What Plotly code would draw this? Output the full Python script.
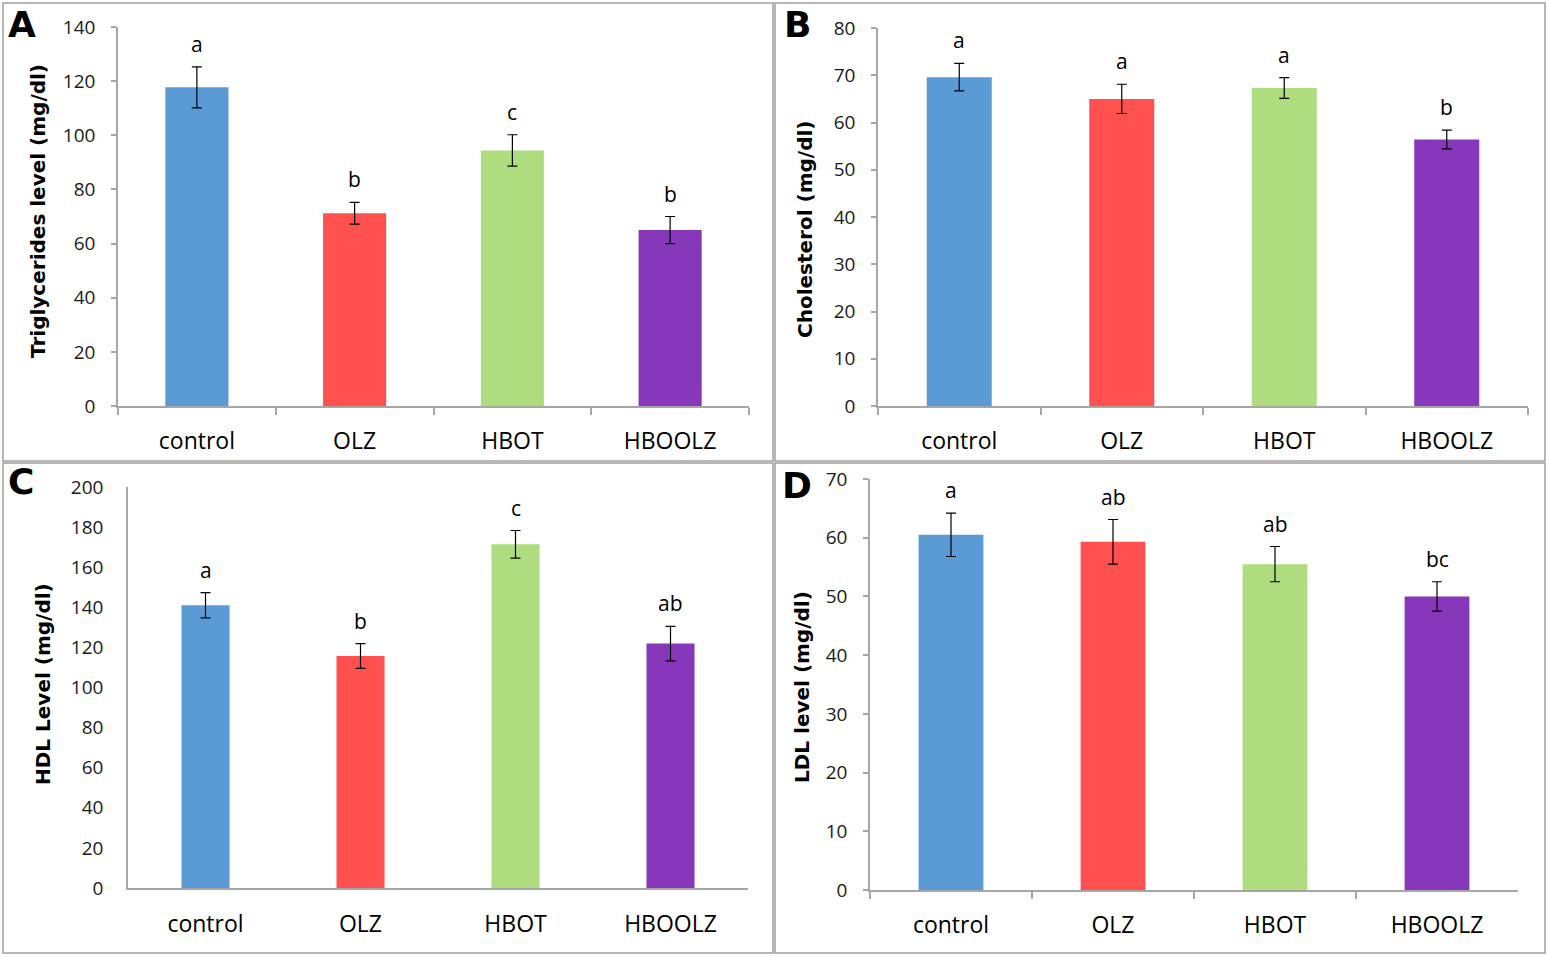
import plotly.graph_objects as go

# groups and values
groups = ["control", "OLZ", "HBOT", "HBOOLZ"]
bar_colors = ["#5B9BD5", "#FF5050", "#AFDC7E", "#8637BA"]

tg_mean = [117.7, 71.2, 94.4, 65.0]
tg_err = [7.6, 4.0, 5.8, 5.0]
tg_sig = ["a", "b", "c", "b"]

chol_mean = [69.6, 65.0, 67.3, 56.4]
chol_err = [2.9, 3.1, 2.2, 2.0]
chol_sig = ["a", "a", "a", "b"]

hdl_mean = [141.0, 115.7, 171.4, 121.9]
hdl_err = [6.3, 6.2, 6.9, 8.6]
hdl_sig = ["a", "b", "c", "ab"]

ldl_mean = [60.5, 59.3, 55.5, 50.0]
ldl_err = [3.7, 3.8, 3.0, 2.5]
ldl_sig = ["a", "ab", "ab", "bc"]

W, H = 1549, 957

def px_x(v):
    return v / W

def px_y(v):
    return 1 - v / H

# panel: letter, y title, data, y max, dtick, axis box in px (left, right, top, bottom), bar width, ticks
panels = [
    dict(letter="A", title="Triglycerides level (mg/dl)", mean=tg_mean, err=tg_err, sig=tg_sig,
         ymax=140, dtick=20, box=(118, 749, 27, 406), bw=0.4, ticks=True,
         letter_pos=(22, 25), title_pos=(38, 211), frame=(3, 773, 3, 461)),
    dict(letter="B", title="Cholesterol (mg/dl)", mean=chol_mean, err=chol_err, sig=chol_sig,
         ymax=80, dtick=10, box=(878, 1528, 28, 406), bw=0.4, ticks=True,
         letter_pos=(797, 24), title_pos=(805, 230), frame=(775, 1545, 3, 461)),
    dict(letter="C", title="HDL Level (mg/dl)", mean=hdl_mean, err=hdl_err, sig=hdl_sig,
         ymax=200, dtick=20, box=(128, 748, 487, 888), bw=0.31, ticks=False,
         letter_pos=(21, 481), title_pos=(43, 684), frame=(3, 773, 463, 953)),
    dict(letter="D", title="LDL level (mg/dl)", mean=ldl_mean, err=ldl_err, sig=ldl_sig,
         ymax=70, dtick=10, box=(870, 1518, 479, 890), bw=0.4, ticks=True,
         letter_pos=(797, 485), title_pos=(802, 687), frame=(775, 1545, 463, 953)),
]

axis_grey = "#A6A6A6"
fig = go.Figure()
annotations = []
shapes = []

for i, p in enumerate(panels):
    n = "" if i == 0 else str(i + 1)
    fig.add_trace(go.Bar(
        x=groups, y=p["mean"], width=p["bw"],
        marker=dict(color=bar_colors, line=dict(width=0)),
        error_y=dict(type="data", array=p["err"], visible=True,
                     color="#000000", thickness=1.2, width=5),
        xaxis="x" + n, yaxis="y" + n, showlegend=False,
    ))
    l, r, t, b = p["box"]
    fig.layout["xaxis" + n] = dict(
        domain=[px_x(l), px_x(r)], anchor="y" + n, automargin=False,
        showline=True, linecolor=axis_grey, linewidth=1.5,
        ticks="outside" if p["ticks"] else "", tickson="boundaries",
        ticklen=7, tickcolor=axis_grey, tickwidth=1.5,
        tickfont=dict(family="Open Sans", size=23, color="#000000"),
        ticklabelstandoff=14 if p["ticks"] else 15, showgrid=False, fixedrange=True,
    )
    fig.layout["yaxis" + n] = dict(
        domain=[px_y(b), px_y(t)], anchor="x" + n, automargin=False,
        range=[0, p["ymax"]], dtick=p["dtick"],
        showline=True, linecolor=axis_grey, linewidth=1.5,
        ticks="outside" if p["ticks"] else "", ticklen=5,
        tickcolor=axis_grey, tickwidth=1.5,
        tickfont=dict(family="Open Sans", size=19, color="#1a1a1a"),
        ticklabelstandoff=12 if p["ticks"] else 19, showgrid=False, zeroline=False,
        fixedrange=True,
    )
    # significance letters above the error bars
    for g, m, e, s in zip(groups, p["mean"], p["err"], p["sig"]):
        annotations.append(dict(
            x=g, y=m + e, xref="x" + n, yref="y" + n, text=s, showarrow=False,
            yanchor="middle", yshift=23,
            font=dict(family="Open Sans", size=21, color="#000000"),
        ))
    # y axis title
    tx, ty = p["title_pos"]
    annotations.append(dict(
        x=px_x(tx), y=px_y(ty), xref="paper", yref="paper", text="<b>" + p["title"] + "</b>",
        textangle=-90, showarrow=False, xanchor="center", yanchor="middle",
        font=dict(family="DejaVu Sans", size=20, color="#000000"),
    ))
    # panel letter
    lx, ly = p["letter_pos"]
    annotations.append(dict(
        x=px_x(lx), y=px_y(ly), xref="paper", yref="paper", text="<b>" + p["letter"] + "</b>",
        showarrow=False, xanchor="center", yanchor="middle",
        font=dict(family="DejaVu Sans", size=36, color="#000000"),
    ))
    fl, fr, ft, fb = p["frame"]
    shapes.append(dict(type="rect", xref="paper", yref="paper",
                       x0=px_x(fl), x1=px_x(fr), y0=px_y(fb), y1=px_y(ft),
                       line=dict(color="#A0A0A0", width=1.5)))

fig.update_layout(
    width=W, height=H,
    margin=dict(l=0, r=0, t=0, b=0, autoexpand=False),
    paper_bgcolor="white", plot_bgcolor="white",
    annotations=annotations, shapes=shapes,
)

# page body has a default 8px margin; drop it so the figure sits at the window corner
fig.write_html("out.html", config={"displayModeBar": False},
               post_script="document.body.style.margin='0px';")
